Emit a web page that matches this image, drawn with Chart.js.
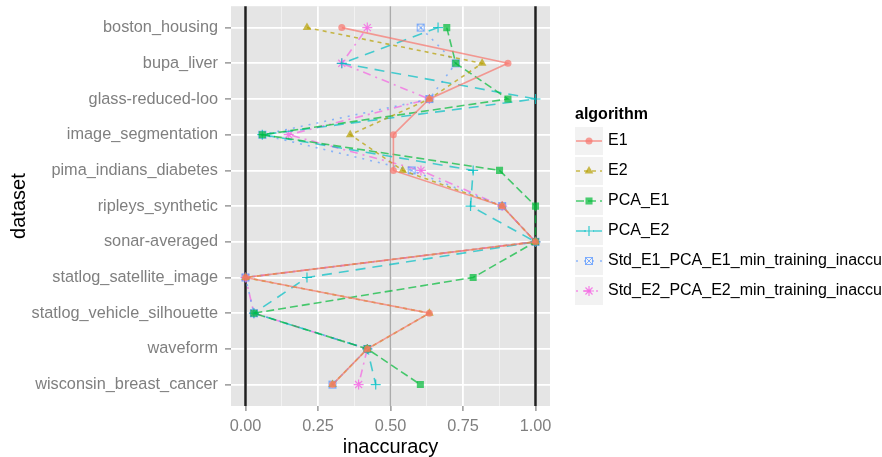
<!DOCTYPE html>
<html>
<head>
<meta charset="utf-8">
<script src="https://cdn.jsdelivr.net/npm/chart.js@4.4.0/dist/chart.umd.min.js"></script>
<style>
  html, body { margin: 0; padding: 0; background: #fff; }
</style>
</head>
<body>
<canvas id="my-chart" width="882" height="457"></canvas>
<script>
// datasets (y axis), top to bottom
const datasetNames = [
  'boston_housing', 'bupa_liver', 'glass-reduced-loo', 'image_segmentation',
  'pima_indians_diabetes', 'ripleys_synthetic', 'sonar-averaged',
  'statlog_satellite_image', 'statlog_vehicle_silhouette', 'waveform',
  'wisconsin_breast_cancer'
];
const algorithms = [
  'E1', 'E2', 'PCA_E1', 'PCA_E2',
  'Std_E1_PCA_E1_min_training_inaccuracy',
  'Std_E2_PCA_E2_min_training_inaccuracy'
];

// inaccuracy per dataset, same order as datasetNames
const e1     = [0.332, 0.905, 0.634, 0.510, 0.510, 0.885, 1.0, 0.0, 0.634, 0.42, 0.300];
const e2     = [0.212, 0.816, 0.634, 0.361, 0.542, 0.885, 1.0, 0.0, 0.634, 0.42, 0.300];
const pcaE1  = [0.694, 0.725, 0.905, 0.058, 0.876, 1.0, 1.0, 0.785, 0.029, 0.42, 0.603];
const pcaE2  = [0.664, 0.332, 1.0, 0.058, 0.785, 0.776, 1.0, 0.212, 0.029, 0.42, 0.449];
const stdE1  = [0.604, 0.725, 0.634, 0.058, 0.573, 0.885, 1.0, 0.0, 0.029, 0.42, 0.300];
const stdE2  = [0.420, 0.332, 0.634, 0.149, 0.605, 0.885, 1.0, 0.0, 0.029, 0.42, 0.390];

const xTicks = [0, 0.125, 0.25, 0.375, 0.5, 0.625, 0.75, 0.875, 1];
const xMajor = [0, 0.25, 0.5, 0.75, 1];
const refValues = [0, 0.5, 1];

const colors = ['#F8766D', '#B79F00', '#00BA38', '#00BFC4', '#619CFF', '#F564E3'];
const dashes = [[], [4, 4], [8, 4], [10, 7], [2, 6], [2, 5, 8, 5]];
const font = '"Liberation Sans", Arial, sans-serif';

function rgba(hex, a) {
  const n = parseInt(hex.slice(1), 16);
  return `rgba(${n >> 16}, ${(n >> 8) & 255}, ${n & 255}, ${a})`;
}

// ggplot shape 7: square with an x inside
function squareX(color) {
  const c = document.createElement('canvas');
  c.width = 10; c.height = 10;
  const g = c.getContext('2d');
  g.strokeStyle = color;
  g.lineWidth = 1;
  g.strokeRect(1.5, 1.5, 7, 7);
  g.beginPath();
  g.moveTo(1.5, 1.5); g.lineTo(8.5, 8.5);
  g.moveTo(8.5, 1.5); g.lineTo(1.5, 8.5);
  g.stroke();
  return c;
}

const series = [e1, e2, pcaE1, pcaE2, stdE1, stdE2];
const shapes = ['circle', 'triangle', 'rect', 'cross', squareX(rgba(colors[4], 0.8)), 'star'];
const radii = [3.5, 5, 5, 5, 5, 5];
const pointBorders = [0, 0, 0, 1.2, 1, 1.2];

const chartDatasets = series.map((vals, i) => ({
  label: algorithms[i],
  data: vals.map((v, j) => ({ x: v, y: j })),
  showLine: true,
  borderColor: rgba(colors[i], 0.7),
  borderWidth: 1.6,
  borderDash: dashes[i],
  pointStyle: shapes[i],
  pointRadius: radii[i],
  pointBorderWidth: pointBorders[i],
  pointBackgroundColor: rgba(colors[i], 0.7),
  pointBorderColor: rgba(colors[i], 0.8)
}));

const panelPlugin = {
  id: 'panel',
  beforeDraw(chart) {
    const { ctx, chartArea: a } = chart;
    ctx.save();
    ctx.fillStyle = '#E5E5E5';
    ctx.fillRect(a.left, a.top, a.right - a.left, a.bottom - a.top);
    ctx.restore();
  },
  beforeDatasetsDraw(chart) {
    const { ctx, chartArea: a, scales } = chart;
    ctx.save();
    refValues.forEach(v => {
      const px = scales.x.getPixelForValue(v);
      ctx.strokeStyle = v === 0.5 ? '#ABABAB' : '#1F1F1F';
      ctx.lineWidth = v === 0.5 ? 1.6 : 2.5;
      ctx.beginPath();
      ctx.moveTo(px, a.top);
      ctx.lineTo(px, a.bottom);
      ctx.stroke();
    });
    ctx.restore();
  }
};

const legendPlugin = {
  id: 'ggLegend',
  afterDraw(chart) {
    const ctx = chart.ctx;
    ctx.save();
    ctx.fillStyle = '#000';
    ctx.font = 'bold 16px ' + font;
    ctx.textBaseline = 'alphabetic';
    ctx.fillText('algorithm', 575, 119);
    chart.data.datasets.forEach((ds, i) => {
      const top = 127 + i * 30;
      const cy = top + 14;
      ctx.fillStyle = '#F2F2F2';
      ctx.fillRect(575, top, 28, 28);
      ctx.strokeStyle = ds.borderColor;
      ctx.lineWidth = ds.borderWidth;
      ctx.setLineDash(ds.borderDash);
      ctx.beginPath();
      ctx.moveTo(576, cy);
      ctx.lineTo(602, cy);
      ctx.stroke();
      ctx.setLineDash([]);
      ctx.fillStyle = ds.pointBackgroundColor;
      ctx.strokeStyle = ds.pointBorderColor;
      ctx.lineWidth = ds.pointBorderWidth;
      Chart.helpers.drawPoint(ctx, {
        pointStyle: ds.pointStyle, radius: ds.pointRadius,
        borderWidth: ds.pointBorderWidth, rotation: 0
      }, 589, cy);
      ctx.fillStyle = '#000';
      ctx.font = '16px ' + font;
      ctx.textBaseline = 'middle';
      ctx.fillText(ds.label, 608, cy);
    });
    ctx.restore();
  }
};

const ctx = document.getElementById('my-chart').getContext('2d');
const chart = new Chart(ctx, {
  type: 'scatter',
  data: { datasets: chartDatasets },
  options: {
    responsive: false,
    animation: false,
    devicePixelRatio: 1,
    layout: { padding: { left: 0, right: 332, top: 6, bottom: 0 } },
    plugins: { legend: { display: false }, tooltip: { enabled: false } },
    scales: {
      x: {
        type: 'linear',
        min: -0.05,
        max: 1.05,
        afterBuildTicks: s => { s.ticks = xTicks.map(v => ({ value: v })); },
        afterFit: s => { s.height = 51; s.paddingLeft = 0; s.paddingRight = 0; },
        border: { display: false },
        grid: {
          color: c => xMajor.includes(c.tick.value) ? '#FFFFFF' : '#F2F2F2',
          lineWidth: c => xMajor.includes(c.tick.value) ? 1.8 : 1,
          tickColor: c => xMajor.includes(c.tick.value) ? '#7F7F7F' : 'rgba(0,0,0,0)',
          tickLength: 5,
          tickWidth: 1.2
        },
        ticks: {
          autoSkip: false,
          maxRotation: 0,
          padding: 6,
          color: '#7F7F7F',
          font: { family: font, size: 16.3 },
          callback: v => xMajor.includes(v) ? v.toFixed(2) : ''
        },
        title: {
          display: true,
          text: 'inaccuracy',
          color: '#000',
          font: { family: font, size: 20 },
          padding: { top: 0, bottom: -2 }
        }
      },
      y: {
        type: 'linear',
        min: -0.6,
        max: 10.6,
        reverse: true,
        afterBuildTicks: s => { s.ticks = datasetNames.map((_, i) => ({ value: i })); },
        afterFit: s => { s.width = 231; s.paddingTop = 0; s.paddingBottom = 0; },
        border: { display: false },
        grid: {
          color: '#FFFFFF',
          lineWidth: 1.8,
          tickColor: '#7F7F7F',
          tickLength: 6,
          tickWidth: 1.2
        },
        ticks: {
          autoSkip: false,
          padding: 7,
          color: '#7F7F7F',
          font: { family: font, size: 16.3 },
          callback: v => datasetNames[v]
        },
        title: {
          display: true,
          text: 'dataset',
          color: '#000',
          font: { family: font, size: 20 },
          padding: { top: 7, bottom: 0 }
        }
      }
    }
  },
  plugins: [panelPlugin, legendPlugin]
});
</script>
</body>
</html>
